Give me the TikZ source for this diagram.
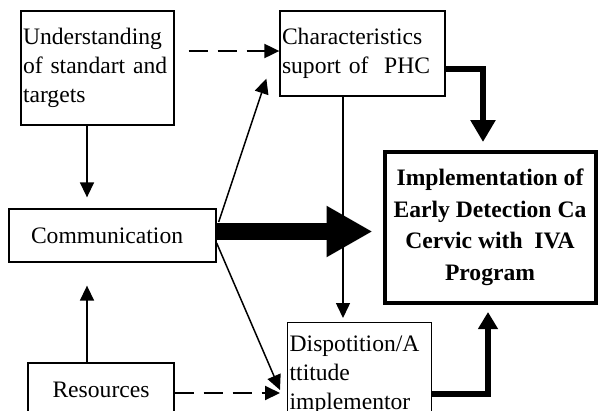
\documentclass[tikz,border=0pt]{standalone}
\usepackage{fontspec}
\setmainfont{Liberation Serif}
\usetikzlibrary{arrows.meta,calc}

\tikzset{
    box/.style={draw, line width=1.3pt, inner sep=2pt},
    bigbox/.style={draw, line width=4pt, align=center, font=\fontsize{23.6}{31.5}\selectfont\bfseries},
    thinarrow/.style={line width=1.5pt, -{Triangle[length=15pt,width=14pt]}},
    dasharrow/.style={line width=2pt, dash pattern=on 19pt off 10pt, -{Triangle[length=15pt,width=14pt]}},
}

\begin{document}
\begin{tikzpicture}[x=1pt, y=-1pt, font=\fontsize{23.6}{29}\selectfont]
    \useasboundingbox (0,0) rectangle (599,410);
    \clip (0,0) rectangle (599,410);

    \node[box, minimum width=153pt, minimum height=114pt, text width=149pt, align=left] (under) at (97.5,68) {Understanding\\of standart and\\targets};
    \node[box, minimum width=165pt, minimum height=85pt, text width=161pt, align=left] (charac) at (362.5,53.5) {Characteristics\\suport of~ PHC};
    \node[bigbox, minimum width=211pt, minimum height=151pt] (impl) at (490,227.5) {Implementation of\\Early Detection Ca\\Cervic with~ IVA\\Program};
    \node[box, minimum width=207pt, minimum height=53pt, inner xsep=22pt, text width=163pt, align=left] (comm) at (112.5,235.5) {Communication};
    \node[box, minimum width=146pt, minimum height=54pt] (res) at (101,390) {Resources};
    \node[box, anchor=north west, minimum width=144pt, text width=140pt, minimum height=105pt, align=left] (disp) at (287,322) {Dispotition/A\\ttitude\\implementor};

    % end points of the connectors
    \coordinate (ud) at ($(under.south)+(-10.5,0)$);
    \coordinate (rc) at ($(res.north)+(-14,0)$);
    \coordinate (cd) at ($(charac.south)+(-19.5,0)$);
    \coordinate (tipc) at ($(charac.south west)+(-13,-18)$);
    \coordinate (tipd) at ($(disp.north west)+(-7,68)$);

    \draw[dasharrow] ($(under.east |- charac.west)+(14,-2.5)$) -- ($(charac.west)+(0,-2.5)$);
    \draw[thinarrow, shorten >=11pt] (ud) -- (ud |- comm.north);
    \draw[thinarrow, shorten >=23pt] (rc) -- (rc |- comm.south);
    \draw[thinarrow, shorten >=4pt] (cd) -- (cd |- disp.north);
    \draw[thinarrow] ($(comm.east)+(2,-13.5)$) -- (tipc);
    \draw[thinarrow] ($(comm.east)+(0,7.5)$) -- (tipd);
    \draw[dasharrow] ($(res.east)+(0,3)$) -- (tipd |- {$(res.east)+(0,3)$});

    \draw[line width=17pt, -{Triangle[length=46pt,width=48pt]}] ($(comm.east)+(0,-4)$) -- ($(impl.west)+(-10,4)$);
    \draw[line width=6pt, -{Triangle[length=22pt,width=24pt]}] ($(charac.east)+(0,15)$) -| ($(impl.north)+(-7,-8)$);
    \draw[line width=6pt, -{Triangle[length=17pt,width=19pt]}] ($(disp.north east)+(0,72)$) -| ($(impl.south)+(-2,7)$);
\end{tikzpicture}
\end{document}
